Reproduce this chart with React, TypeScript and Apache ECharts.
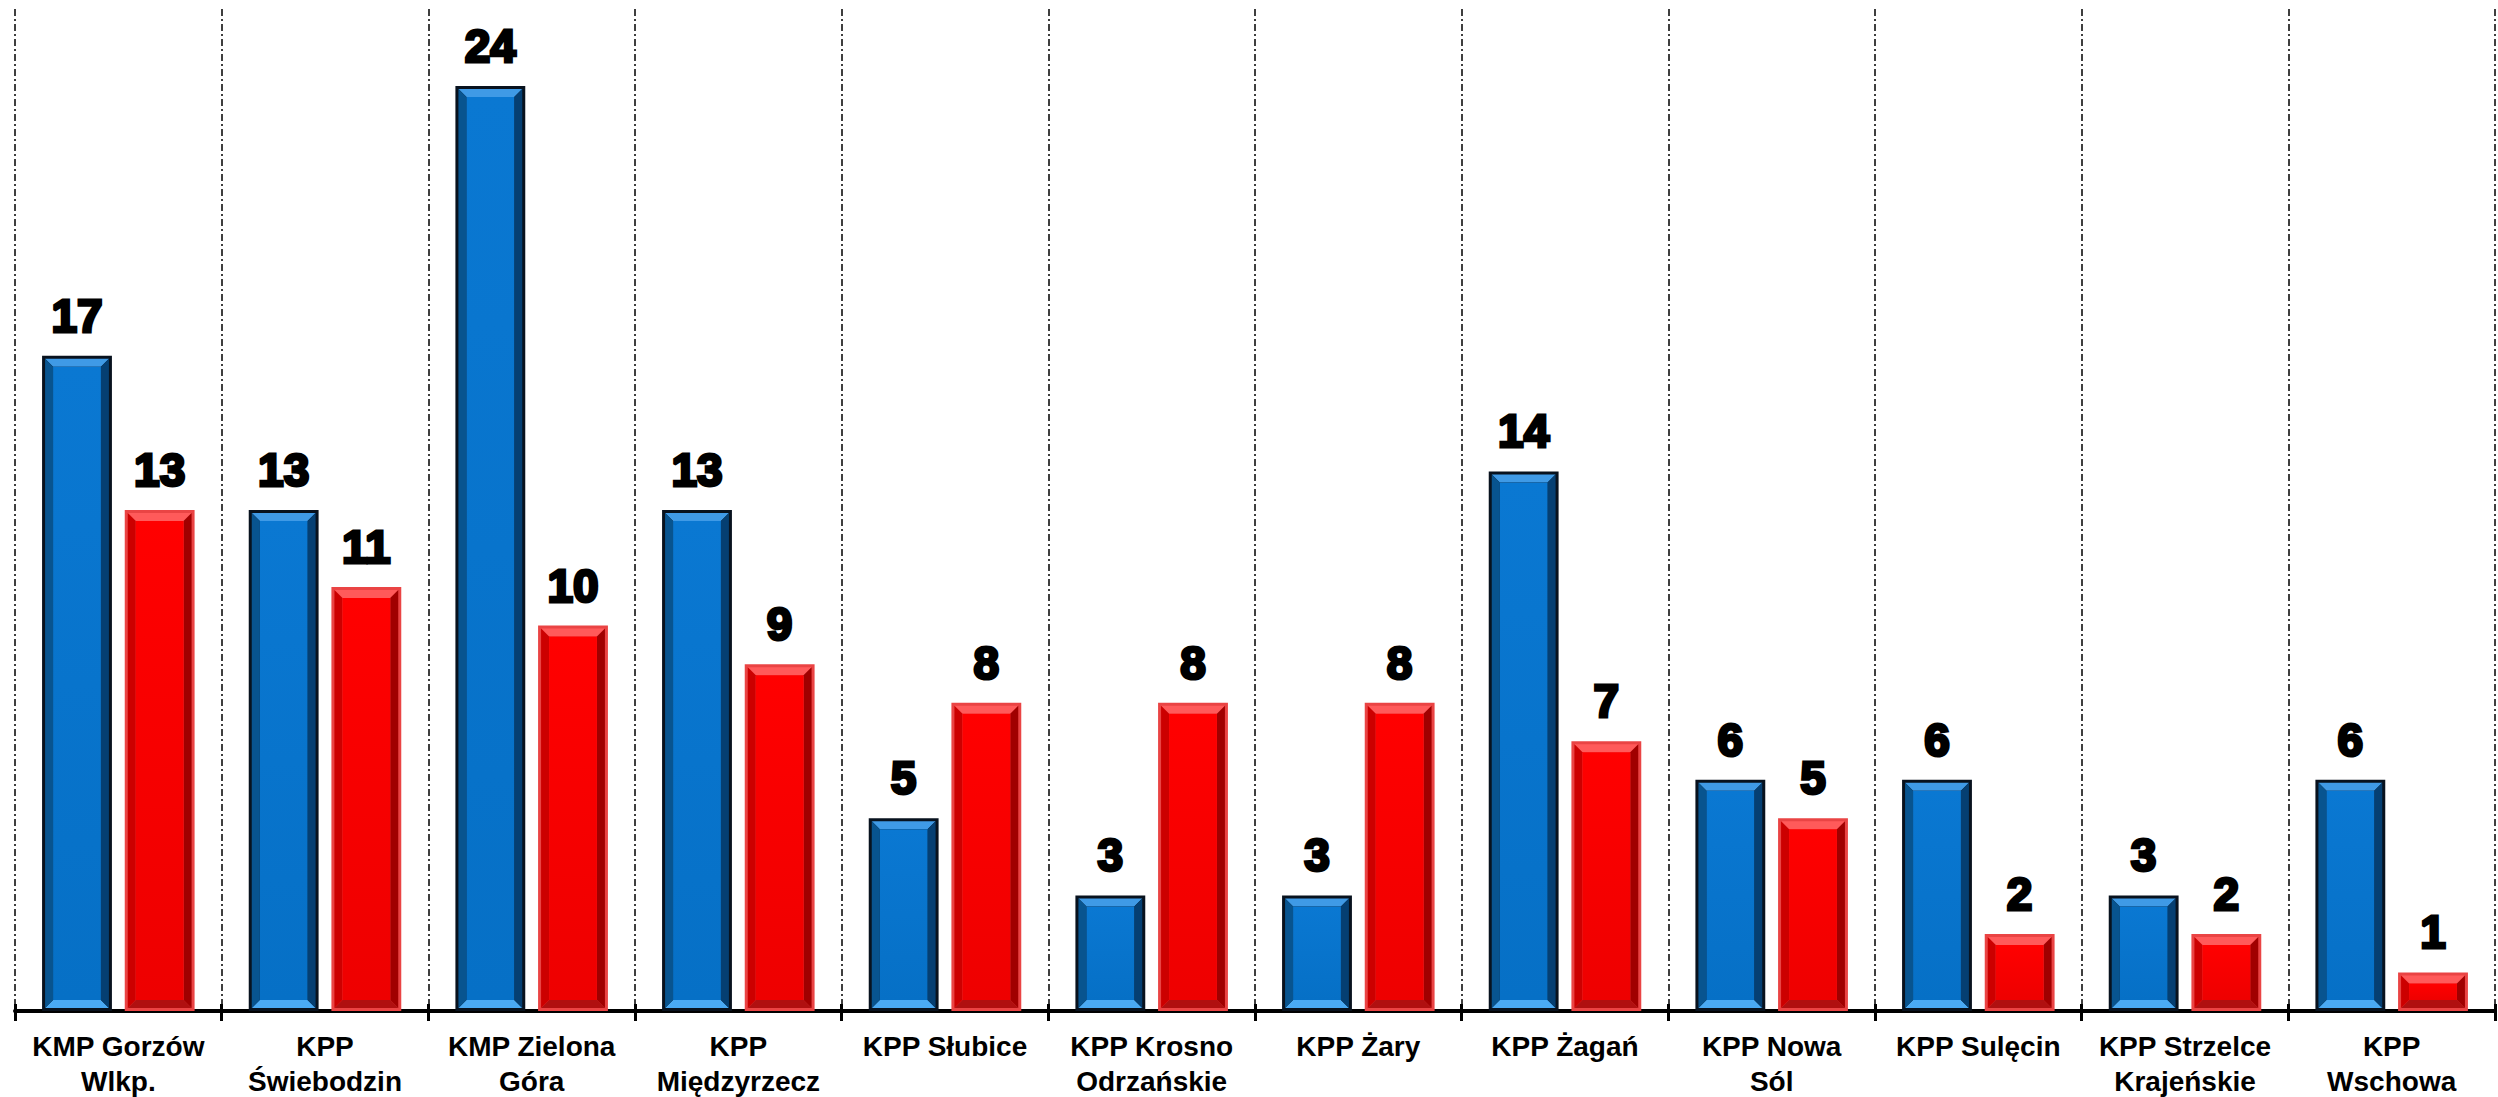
import React, { useEffect, useRef } from "react";
import * as echarts from "echarts";

const categories = [
  "KMP Gorzów\nWlkp.",
  "KPP\nŚwiebodzin",
  "KMP Zielona\nGóra",
  "KPP\nMiędzyrzecz",
  "KPP Słubice",
  "KPP Krosno\nOdrzańskie",
  "KPP Żary",
  "KPP Żagań",
  "KPP Nowa\nSól",
  "KPP Sulęcin",
  "KPP Strzelce\nKrajeńskie",
  "KPP\nWschowa",
];
const blueValues = [17, 13, 24, 13, 5, 3, 3, 14, 6, 6, 3, 6];
const redValues = [13, 11, 10, 9, 8, 8, 8, 7, 5, 2, 2, 1];
const yMax = 26;

const bluePalette = {
  border: "#08121e",
  borderW: 3,
  top: "#3f9ae6",
  left: "#08548f",
  right: "#053f72",
  bottom: "#4aaaf4",
  faceTop: "#0a78d2",
  faceBottom: "#0670c6",
};
const redPalette = {
  border: "#ea4444",
  borderW: 3,
  top: "#ff5a5a",
  left: "#cc0000",
  right: "#a00000",
  bottom: "#b01010",
  faceTop: "#ff0000",
  faceBottom: "#ee0000",
};

function makeRender(side: number, pal: any) {
  return (params: any, api: any) => {
    const i = api.value(0);
    const v = api.value(1);
    const base = api.coord([i, 0]);
    const topPt = api.coord([i, v]);
    const band = api.size([1, 0])[0];
    const bw = band * 0.338;
    const gap = band * 0.062;
    const x = side === 0 ? base[0] - gap / 2 - bw : base[0] + gap / 2;
    const y = topPt[1];
    const h = base[1] - topPt[1];
    const B = pal.borderW;
    const o = { x1: x + B, y1: y + B, x2: x + bw - B, y2: y + h - B };
    const E = Math.min(8, (o.y2 - o.y1) / 2);
    const n = { x1: o.x1 + E, y1: o.y1 + E, x2: o.x2 - E, y2: o.y2 - E };
    const poly = (pts: number[][], fill: string) => ({
      type: "polygon",
      shape: { points: pts },
      style: { fill },
    });
    return {
      type: "group",
      children: [
        { type: "rect", shape: { x, y, width: bw, height: h }, style: { fill: pal.border } },
        poly([[o.x1, o.y1], [o.x2, o.y1], [n.x2, n.y1], [n.x1, n.y1]], pal.top),
        poly([[o.x1, o.y2], [o.x2, o.y2], [n.x2, n.y2], [n.x1, n.y2]], pal.bottom),
        poly([[o.x1, o.y1], [n.x1, n.y1], [n.x1, n.y2], [o.x1, o.y2]], pal.left),
        poly([[o.x2, o.y1], [n.x2, n.y1], [n.x2, n.y2], [o.x2, o.y2]], pal.right),
        {
          type: "rect",
          shape: { x: n.x1, y: n.y1, width: n.x2 - n.x1, height: Math.max(0, n.y2 - n.y1) },
          style: {
            fill: new echarts.graphic.LinearGradient(0, 0, 0, 1, [
              { offset: 0, color: pal.faceTop },
              { offset: 1, color: pal.faceBottom },
            ]),
          },
        },
        {
          type: "text",
          x: x + bw / 2,
          y: y - 40,
          style: {
            text: String(v),
            align: "center",
            verticalAlign: "middle",
            fontFamily: "Liberation Sans, Arial, sans-serif",
            fontWeight: "bold",
            fontSize: 46,
            fill: "#000",
            stroke: "#000",
            lineWidth: 3,
          },
        },
      ],
    };
  };
}

export default function App() {
  const ref = useRef<HTMLDivElement>(null);
  useEffect(() => {
    document.body.style.margin = "0";
    document.body.style.overflow = "hidden";
    const chart = echarts.init(ref.current!, null, { renderer: "svg" });
    chart.setOption({
      animation: false,
      backgroundColor: "#fff",
      grid: {
        left: 15,
        right: 3,
        top: 9,
        bottom: 86,
        containLabel: false,
        outerBoundsMode: "none",
      },
      xAxis: [
        {
          type: "category",
          data: categories,
          boundaryGap: true,
          axisLine: { show: true, lineStyle: { color: "#000", width: 4 } },
          axisTick: { show: true, length: 10, lineStyle: { color: "#000", width: 3 } },
          splitLine: {
            show: true,
            lineStyle: { color: "#000", width: 1.5, type: [7, 3, 2, 3] },
          },
          axisLabel: {
            margin: 18,
            color: "#000",
            fontFamily: "Liberation Sans, Arial, sans-serif",
            fontWeight: "bold",
            fontSize: 28,
            lineHeight: 35,
            interval: 0,
          },
        },
        {
          type: "category",
          data: categories,
          position: "bottom",
          boundaryGap: true,
          axisLine: { show: false },
          axisTick: { show: true, inside: true, length: 7, lineStyle: { color: "#000", width: 3 } },
          splitLine: { show: false },
          axisLabel: { show: false },
        },
      ],
      yAxis: { type: "value", min: 0, max: yMax, show: false, splitLine: { show: false } },
      series: [
        {
          type: "custom",
          name: "blue",
          renderItem: makeRender(0, bluePalette),
          encode: { x: 0, y: 1 },
          data: blueValues.map((v, i) => [i, v]),
          clip: false,
        },
        {
          type: "custom",
          name: "red",
          renderItem: makeRender(1, redPalette),
          encode: { x: 0, y: 1 },
          data: redValues.map((v, i) => [i, v]),
          clip: false,
        },
      ],
    });
    return () => chart.dispose();
  }, []);
  return <div ref={ref} style={{ width: 2498, height: 1097 }} />;
}
